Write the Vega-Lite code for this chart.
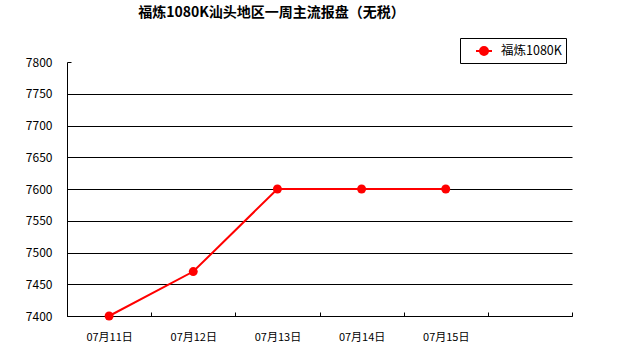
{
  "$schema": "https://vega.github.io/schema/vega-lite/v6.json",
  "autosize": {"type": "none"},
  "width": 505,
  "height": 254,
  "padding": {"left": 67, "top": 62, "right": 54, "bottom": 34},
  "background": "white",
  "config": {
    "view": {"stroke": null},
    "font": "Noto Sans CJK SC"
  },
  "title": {
    "text": "福炼1080K汕头地区一周主流报盘（无税）",
    "font": "Noto Sans CJK SC",
    "fontSize": 14,
    "fontWeight": "bold",
    "color": "black",
    "anchor": "middle",
    "dx": -48,
    "offset": 18
  },
  "data": {
    "values": [
      {"date": "07月11日", "price": 7400, "series": "福炼1080K"},
      {"date": "07月12日", "price": 7470, "series": "福炼1080K"},
      {"date": "07月13日", "price": 7600, "series": "福炼1080K"},
      {"date": "07月14日", "price": 7600, "series": "福炼1080K"},
      {"date": "07月15日", "price": 7600, "series": "福炼1080K"}
    ]
  },
  "mark": {"type": "line", "strokeWidth": 2, "point": {"filled": true, "size": 80}},
  "encoding": {
    "x": {
      "field": "date",
      "type": "ordinal",
      "scale": {"type": "band", "domain": ["07月11日", "07月12日", "07月13日", "07月14日", "07月15日", ""], "paddingInner": 0, "paddingOuter": 0},
      "axis": {
        "title": null,
        "labelAngle": 0,
        "labelFontSize": 11,
        "labelColor": "black",
        "domainColor": "black",
        "tickColor": "black",
        "tickSize": -4,
        "tickBand": "extent",
        "labelPadding": 19,
        "grid": false
      }
    },
    "y": {
      "field": "price",
      "type": "quantitative",
      "scale": {"domain": [7400, 7800], "nice": false, "zero": false},
      "axis": {
        "title": null,
        "format": "d",
        "values": [7400, 7450, 7500, 7550, 7600, 7650, 7700, 7750, 7800],
        "labelFontSize": 12,
        "labelColor": "black",
        "domainColor": "black",
        "tickColor": "black",
        "tickSize": -4,
        "labelPadding": 19,
        "grid": true,
        "gridColor": "black",
        "gridOpacity": {"condition": {"test": "datum.value >= 7800", "value": 0}, "value": 1}
      }
    },
    "color": {
      "field": "series",
      "type": "nominal",
      "scale": {"range": ["#FF0000"]},
      "legend": {
        "title": null,
        "orient": "none",
        "legendX": 393,
        "legendY": -24,
        "strokeColor": "black",
        "fillColor": "white",
        "padding": 4,
        "symbolType": "M-1,0H1M0.5,0A0.5,0.5,0,1,1,-0.5,0A0.5,0.5,0,1,1,0.5,0Z",
        "symbolSize": 256,
        "symbolStrokeWidth": 2,
        "symbolFillColor": "#FF0000",
        "symbolStrokeColor": "#FF0000",
        "symbolOffset": 11,
        "labelFontSize": 12.5,
        "labelColor": "black",
        "labelOffset": 8,
        "labelExpr": "datum.label + '  '"
      }
    }
  }
}
